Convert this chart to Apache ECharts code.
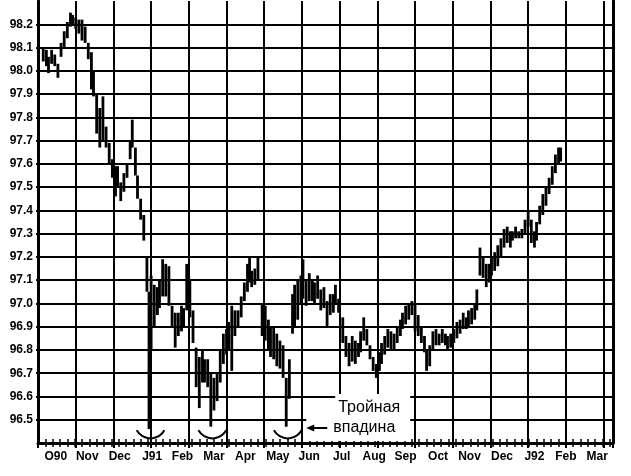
<!DOCTYPE html>
<html><head><meta charset="utf-8">
<script src="https://cdn.jsdelivr.net/npm/echarts@6/dist/echarts.min.js"></script>
<style>html,body{margin:0;padding:0;background:#fff}#c{width:631px;height:476px}</style>
</head><body><div id="c"></div>
<script>
// calendar-day offsets from 1990-10-01
const days = [5,8,10,13,16,19,22,25,28,31,33,36,39,42,45,48,51,53,56,59,62,65,68,71,74,76,79,82,85,88,90,93,95,98,101,104,106,108,111,114,116,119,122,125,128,131,134,137,139,142,145,148,151,154,157,159,162,165,168,171,174,177,180,182,185,188,191,194,197,200,202,204,207,210,214,217,220,222,225,228,231,234,237,240,243,245,248,251,253,256,259,262,264,267,270,273,276,279,282,284,287,291,294,297,300,303,306,308,311,314,317,320,323,326,328,331,334,337,340,343,346,348,351,354,357,360,363,366,369,371,374,377,380,383,386,389,391,394,397,400,403,406,409,411,414,417,419,422,425,428,431,433,436,439,442,445,448,451,453,456,459,462,465,468,471,474,476,479,482,485,488,491,494,497,499];
const highs = [98.10,98.09,98.06,98.09,98.07,98.03,98.12,98.17,98.21,98.25,98.24,98.23,98.22,98.22,98.19,98.12,98.08,98.00,97.90,97.84,97.89,97.76,97.69,97.62,97.59,97.59,97.52,97.56,97.60,97.70,97.79,97.67,97.55,97.45,97.38,97.20,97.05,97.12,97.08,97.07,97.10,97.19,97.17,97.16,96.99,96.96,96.96,96.99,96.98,97.17,97.10,96.97,96.81,96.77,96.80,96.76,96.76,96.70,96.68,96.70,96.80,96.87,96.89,96.92,96.99,96.97,96.97,97.03,97.09,97.17,97.20,97.14,97.15,97.20,97.00,96.99,96.93,96.90,96.90,96.87,96.84,96.82,96.68,96.76,97.04,97.08,97.10,97.12,97.19,97.10,97.13,97.10,97.09,97.12,97.06,97.07,97.01,97.04,97.04,97.08,97.02,96.94,96.86,96.83,96.86,96.84,96.83,96.88,96.94,96.89,96.82,96.77,96.74,96.79,96.83,96.86,96.89,96.88,96.87,96.90,96.93,96.96,96.99,97.00,97.01,97.00,96.95,96.90,96.86,96.80,96.82,96.88,96.89,96.87,96.89,96.87,96.86,96.87,96.89,96.92,96.93,96.96,96.94,96.97,96.98,97.00,97.06,97.24,97.20,97.17,97.17,97.20,97.22,97.25,97.28,97.32,97.33,97.31,97.31,97.33,97.31,97.32,97.36,97.40,97.36,97.31,97.35,97.42,97.47,97.50,97.54,97.59,97.64,97.67,97.67];
const lows = [98.04,98.02,97.99,98.03,98.02,97.97,98.06,98.10,98.14,98.19,98.20,98.18,98.16,98.13,98.12,98.05,97.92,97.89,97.73,97.67,97.70,97.67,97.60,97.54,97.46,97.50,97.44,97.48,97.54,97.62,97.67,97.55,97.45,97.36,97.27,97.05,96.46,96.80,96.90,96.95,96.98,97.03,97.03,96.99,96.90,96.81,96.86,96.88,96.90,96.97,96.94,96.83,96.64,96.55,96.66,96.66,96.64,96.47,96.54,96.58,96.66,96.74,96.78,96.80,96.71,96.86,96.90,96.94,97.01,97.05,97.09,97.07,97.08,97.10,96.86,96.84,96.80,96.77,96.76,96.73,96.72,96.68,96.47,96.59,96.87,96.90,96.93,97.00,97.02,96.99,97.01,97.01,97.00,97.02,96.97,96.98,96.90,96.95,96.96,97.00,96.96,96.83,96.77,96.73,96.75,96.74,96.77,96.79,96.84,96.82,96.76,96.71,96.68,96.71,96.74,96.78,96.81,96.80,96.80,96.83,96.86,96.89,96.91,96.93,96.95,96.88,96.86,96.83,96.79,96.71,96.73,96.80,96.82,96.82,96.83,96.82,96.80,96.81,96.83,96.85,96.87,96.89,96.89,96.90,96.91,96.93,96.97,97.12,97.11,97.07,97.09,97.12,97.14,97.16,97.20,97.24,97.26,97.24,97.27,97.28,97.28,97.28,97.30,97.33,97.26,97.24,97.27,97.34,97.38,97.42,97.47,97.51,97.56,97.60,97.61];
const monthLabels = ['O90','Nov','Dec','J91','Feb','Mar','Apr','May','Jun','Jul','Aug','Sep','Oct','Nov','Dec','J92','Feb','Mar'];
const monthStarts = [0,31,61,92,123,151,182,212,243,273,304,335,365,396,426,457,488,517,548];
const troughDays = [106,165,237];
const noteLines = ['Тройная','впадина'];

const X_MAX = 549;
const labelDays = monthLabels.map((_, i) => Math.round((monthStarts[i] + monthStarts[i + 1]) / 2) + 1);
const labelMap = {};
labelDays.forEach((d, i) => { labelMap[d] = monthLabels[i]; });
const weekTicks = [];
for (let d = 0; d <= X_MAX; d += 7) weekTicks.push(d);

const font = 'Liberation Sans, Arial, sans-serif';
const chart = echarts.init(document.getElementById('c'), null, { renderer: 'canvas' });
const data = days.map((d, i) => [d, highs[i], lows[i]]);

function renderItem(params, api) {
  const p1 = api.coord([api.value(0), api.value(1)]);
  const p2 = api.coord([api.value(0), api.value(2)]);
  return {
    type: 'rect',
    shape: { x: p1[0] - 1.4, y: p1[1], width: 2.8, height: Math.max(p2[1] - p1[1], 2) },
    style: { fill: '#000' }
  };
}

chart.setOption({
  animation: false,
  backgroundColor: '#fff',
  grid: { left: 38, right: 18, top: 1, height: 442 },
  xAxis: [
    { type: 'value', min: 0, max: X_MAX, interval: 36,
      axisLine: { show: true, onZero: false, lineStyle: { color: '#000', width: 3 } },
      axisTick: { show: true, length: 5, lineStyle: { color: '#000', width: 2 } },
      axisLabel: { show: false },
      splitLine: { show: true, lineStyle: { color: '#000', width: 2 } } },
    { type: 'value', min: 0, max: X_MAX, position: 'bottom',
      axisLine: { show: false },
      axisTick: { show: true, customValues: weekTicks, length: 4, lineStyle: { color: '#000', width: 1.5 } },
      axisLabel: { show: true, customValues: labelDays, formatter: v => labelMap[v] || '', margin: 8,
        color: '#000', fontWeight: 'bold', fontSize: 12, fontFamily: font },
      splitLine: { show: false } },
    { type: 'value', min: 0, max: X_MAX, position: 'bottom',
      axisLine: { show: false },
      axisTick: { show: true, inside: true, customValues: weekTicks, length: 4, lineStyle: { color: '#000', width: 1.5 } },
      axisLabel: { show: false }, splitLine: { show: false } }
  ],
  yAxis: [
    { type: 'value', min: 96.4, max: 98.3, interval: 0.1, position: 'left',
      axisLine: { show: true, onZero: false, lineStyle: { color: '#000', width: 3 } },
      axisTick: { show: true, length: 2, lineStyle: { color: '#000', width: 2 } },
      axisLabel: { margin: 5, color: '#000', fontWeight: 'bold', fontSize: 12, fontFamily: font,
        showMinLabel: false, showMaxLabel: false, formatter: v => v.toFixed(1) },
      splitLine: { show: true, showMinLine: false, showMaxLine: false, lineStyle: { color: '#000', width: 2 } } },
    { type: 'value', min: 96.4, max: 98.3, position: 'right',
      axisLine: { show: true, onZero: false, lineStyle: { color: '#000', width: 3 } },
      axisTick: { show: false }, axisLabel: { show: false }, splitLine: { show: false } }
  ],
  series: [{ type: 'custom', xAxisIndex: 0, yAxisIndex: 0, data: data,
    encode: { x: 0, y: [1, 2] }, renderItem: renderItem }]
});

const pt = (d, v) => chart.convertToPixel({ xAxisIndex: 0, yAxisIndex: 0 }, [d, v]);
const g = [];
troughDays.forEach(d => {
  const p = pt(d, 96.42);
  g.push({ type: 'arc', z: 10,
    shape: { cx: p[0] + 1.5, cy: p[1] - 16, r: 16, startAngle: Math.PI / 6, endAngle: 5 * Math.PI / 6 },
    style: { stroke: '#000', lineWidth: 2, fill: null } });
});
const base = pt(troughDays[2], 96.5)[0];
g.push({ type: 'rect', z: 10, shape: { x: base + 20, y: 399, width: 104, height: 42 }, style: { fill: '#fff' } });
g.push({ type: 'rect', z: 10, shape: { x: base + 49, y: 394, width: 75, height: 10 }, style: { fill: '#fff' } });
g.push({ type: 'text', z: 11, style: { text: noteLines[0], x: base + 52, y: 407.5, font: '16px Liberation Sans, Arial, sans-serif', fill: '#000', verticalAlign: 'middle' } });
g.push({ type: 'text', z: 11, style: { text: noteLines[1], x: base + 47, y: 427.5, font: '16px Liberation Sans, Arial, sans-serif', fill: '#000', verticalAlign: 'middle' } });
g.push({ type: 'line', z: 11, shape: { x1: base + 25, y1: 428, x2: base + 41, y2: 428 }, style: { stroke: '#000', lineWidth: 2 } });
g.push({ type: 'polygon', z: 11, shape: { points: [[base + 20, 428], [base + 28, 424.5], [base + 28, 431.5]] }, style: { fill: '#000' } });
chart.setOption({ graphic: g });
</script>
</body></html>
